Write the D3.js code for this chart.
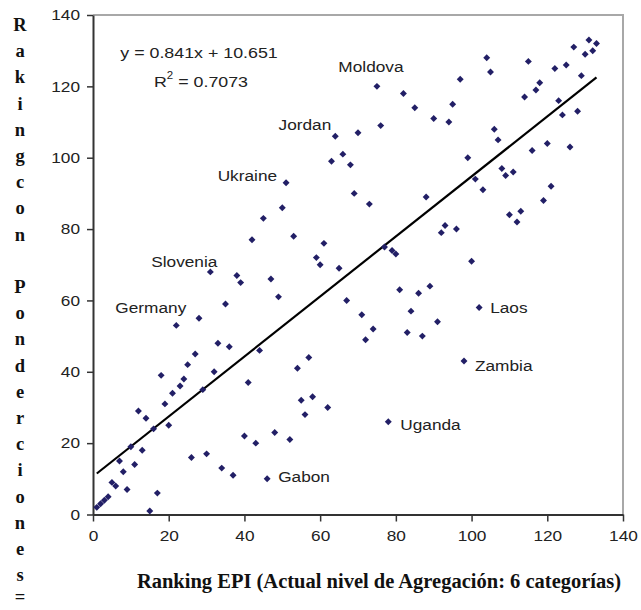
<!DOCTYPE html>
<html><head><meta charset="utf-8">
<script src="https://cdn.jsdelivr.net/npm/d3@7"></script>
<style>body{margin:0;background:#fff}svg{display:block}</style>
</head><body>
<script>
// Data (x = Ranking EPI, y = Ranking con Ponderaciones)
const epiRank = [75,82,85,76,70,64,66,63,68,51,69,90,94,95,97,104,105,115,122,125,127,131,133,132,130,129,118,117,114,123,124,128,106,107,99,116,120,126,101,108,109,111,103,121,88,119,110,113,112,93,92,96,100,102,91,73,50,45,53,61,59,60,65,77,79,80,47,49,67,81,86,89,84,71,74,72,83,87,57,44,42,31,38,39,35,28,22,33,36,27,25,24,23,21,19,18,32,29,41,12,14,16,20,10,13,7,8,11,9,26,30,34,37,40,43,48,46,17,15,5,6,1,2,3,4,54,55,58,56,62,52,78,98];
const pondRank = [120,118,114,109,107,106,101,99,98,93,90,111,110,115,122,128,124,127,125,126,131,133,132,130,129,123,121,119,117,116,112,113,108,105,100,102,104,103,94,97,95,96,91,92,89,88,84,85,82,81,79,80,71,58,54,87,86,83,78,76,72,70,69,75,74,73,66,61,60,63,62,64,57,56,52,49,51,50,44,46,77,68,67,65,59,55,53,48,47,45,42,38,36,34,31,39,40,35,37,29,27,24,25,19,18,15,12,14,7,16,17,13,11,22,20,23,10,6,1,9,8,2,3,4,5,41,32,33,28,30,21,26,43];
const labelNames = ["Moldova","Jordan","Ukraine","Slovenia","Germany","Laos","Zambia","Uganda","Gabon"];
const labelX = [75,64,51,31,22,102,98,78,46];
const labelY = [120,106,93,68,53,58,43,26,10];
const xTicks = [0,20,40,60,80,100,120,140];
const yTicks = [0,20,40,60,80,100,120,140];
const trendSlope = 0.841, trendIntercept = 10.651;
const trendX = [1,133];
const eqText = "y = 0.841x + 10.651";
const r2Text = "0.7073";
const xTitle = "Ranking EPI (Actual nivel de Agregación: 6 categorías)";
const yTitle = "Rakingcon Ponderciones=";

const W = 641, H = 610;
const m = {l:93, t:15, r:18, b:95.5};
const svg = d3.select("body").append("svg").attr("width",W).attr("height",H);
const x = d3.scaleLinear().domain([0,140]).range([m.l, W-m.r]);
const y = d3.scaleLinear().domain([0,140]).range([H-m.b, m.t]);
const SX = 1.15;
const font = "Liberation Sans, Arial, sans-serif";
const serif = "Liberation Serif, Times New Roman, serif";

// frame top/right
svg.append("path").attr("d",`M${x(0)},${y(140)}H${x(140)}V${y(0)}`)
  .attr("fill","none").attr("stroke","#a8a8a8").attr("stroke-width",2);

// axes
const xAxis = svg.append("g").attr("transform",`translate(0,${y(0)})`)
  .call(d3.axisBottom(x).tickValues(xTicks).tickSize(7).tickSizeOuter(0).tickPadding(9));
const yAxis = svg.append("g").attr("transform",`translate(${x(0)},0)`)
  .call(d3.axisLeft(y).tickValues(yTicks).tickSize(6).tickSizeOuter(0).tickPadding(7));
[xAxis,yAxis].forEach(g=>{
  g.select(".domain").attr("stroke","#333").attr("stroke-width",2);
  g.selectAll(".tick line").attr("stroke","#333").attr("stroke-width",1.5);
  g.selectAll(".tick text").attr("fill","#222").attr("font-family",font).attr("font-size",15);
});
xAxis.selectAll(".tick text").attr("dy","0.71em").attr("x",0).attr("transform",`scale(${SX},1)`);
yAxis.selectAll(".tick text").each(function(){
  const t=d3.select(this); const xx=+t.attr("x"); t.attr("x",xx/SX).attr("transform",`scale(${SX},1)`);
});

// trend line
svg.append("line")
  .attr("x1",x(trendX[0])).attr("y1",y(trendSlope*trendX[0]+trendIntercept))
  .attr("x2",x(trendX[1])).attr("y2",y(trendSlope*trendX[1]+trendIntercept))
  .attr("stroke","#000").attr("stroke-width",2.2);

// points
const sym = d3.symbol(d3.symbolSquare, 24);
svg.append("g").selectAll("path").data(epiRank.map((d,i)=>[d,pondRank[i]])).join("path")
  .attr("d",sym).attr("fill","#221f66")
  .attr("transform",d=>`translate(${x(d[0])},${y(d[1])}) rotate(45)`);

// labels
const offs = [[-6,-20,"middle"],[-4,-12,"end"],[-9,-7,"end"],[7,-10,"end"],[10,-18,"end"],[11,0,"start"],[11,4,"start"],[12,3,"start"],[11,-2,"start"]];
function stext(px,py,txt,anchor,size){
  return svg.append("text").attr("transform",`translate(${px},${py}) scale(${SX},1)`)
    .attr("text-anchor",anchor).attr("dominant-baseline","central")
    .attr("font-family",font).attr("font-size",size).attr("fill","#222").text(txt);
}
labelNames.forEach((n,i)=>{
  stext(x(labelX[i])+offs[i][0], y(labelY[i])+offs[i][1], n, offs[i][2], 15);
});

// equation
stext(199,53,eqText,"middle",15.5);
const r2 = svg.append("text").attr("transform",`translate(201,81) scale(${SX},1)`)
  .attr("text-anchor","middle").attr("dominant-baseline","central")
  .attr("font-family",font).attr("font-size",15.5).attr("fill","#222");
r2.append("tspan").text("R");
r2.append("tspan").attr("dy",-6).attr("font-size",10).text("2");
r2.append("tspan").attr("dy",6).text(" = "+r2Text);

// x title
svg.append("text").attr("x",379).attr("y",588).attr("text-anchor","middle")
  .attr("font-family",serif).attr("font-weight","bold").attr("font-size",20.5).attr("fill","#111")
  .text(xTitle);

// y title stacked
const chars = yTitle.split("");
const stepY = 26.2;
chars.forEach((c,i)=>{
  svg.append("text").attr("x",20).attr("y",Math.min(25+i*stepY,597)).attr("text-anchor","middle")
    .attr("dominant-baseline","central")
    .attr("font-family",serif).attr("font-weight","bold").attr("font-size",18.5).attr("fill","#111")
    .text(c);
});
</script>
</body></html>
